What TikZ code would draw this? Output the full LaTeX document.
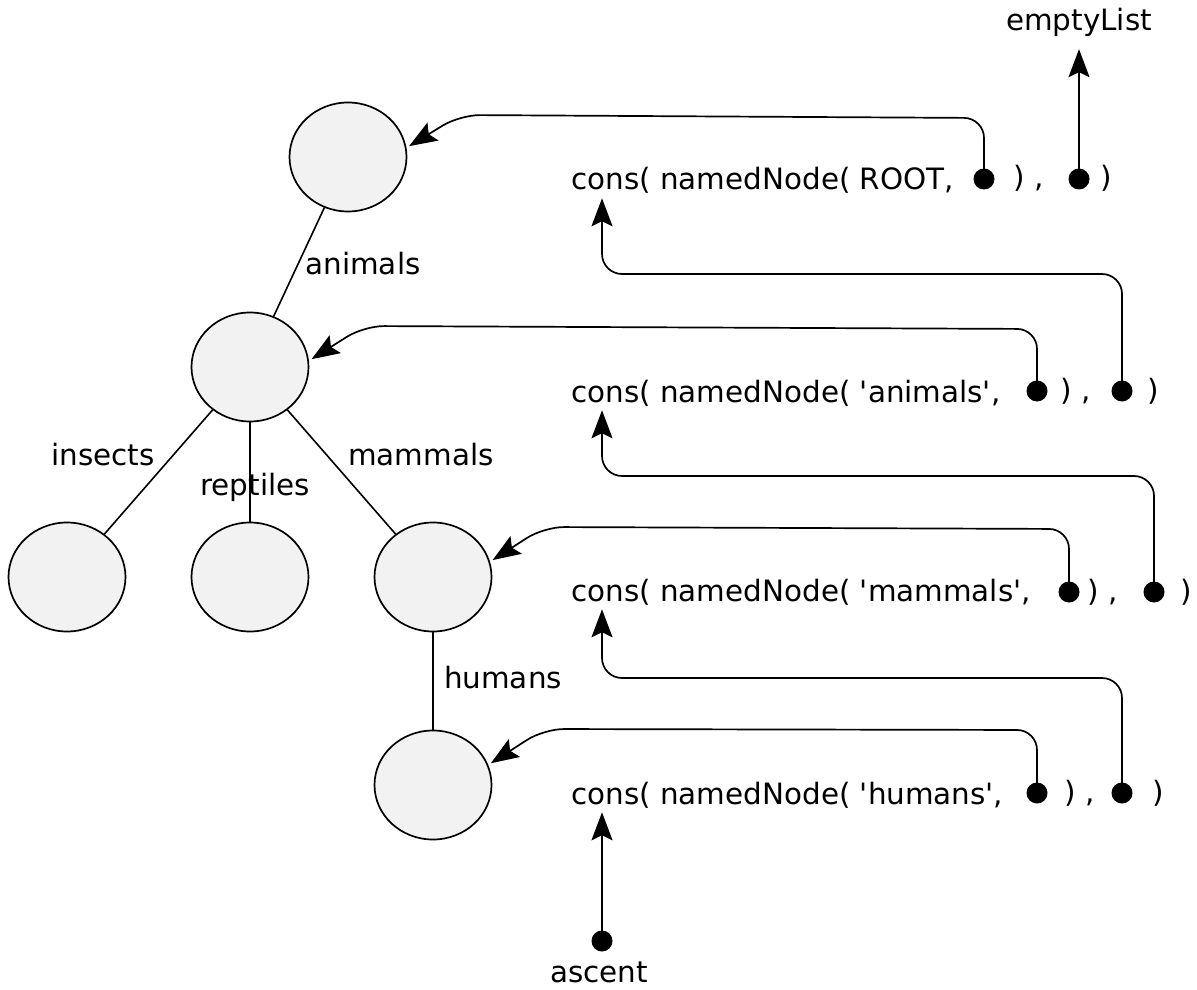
\documentclass[tikz,border=0pt]{standalone}
\usepackage{fontspec}
\setmainfont{DejaVu Sans}
\usepackage{tikz}
\usetikzlibrary{arrows.meta,shapes.geometric}
\definecolor{cellgray}{HTML}{F2F2F2}

\begin{document}
\begin{tikzpicture}[x=0.5pt,y=-0.5pt,
  every node/.style={font=\fontsize{14.7}{17}\selectfont},
  cell/.style={ellipse,draw,line width=0.85pt,fill=cellgray,minimum width=58.5pt,minimum height=54.5pt,inner sep=0pt},
  blob/.style={circle,fill=black,minimum size=10.5pt,inner sep=0pt},
  edge/.style={line width=0.8pt},
  ptr/.style={line width=0.85pt,rounded corners=10pt,-{Stealth[length=14pt,width=10.5pt,inset=2.5pt]}},
  txt/.style={anchor=base west,inner sep=0pt}]
\useasboundingbox (0,0) rectangle (1197,989);
% the tree
\node[cell] (root) at (348,157) {};
\node[cell] (animals) at (250,367) {};
\node[cell] (insects) at (67,577) {};
\node[cell] (reptiles) at (250,577) {};
\node[cell] (mammals) at (433,577) {};
\node[cell] (humans) at (433,785) {};
\draw[edge] (root) -- (animals);
\draw[edge] (animals) -- (insects);
\draw[edge] (animals) -- (reptiles);
\draw[edge] (animals) -- (mammals);
\draw[edge] (mammals) -- (humans);
\node (lanimals) at (363,264) {animals};
\node (linsects) at (103,455) {insects};
\node (lreptiles) at (255,487) {reptiles};
\node (lmammals) at (421,455) {mammals};
\node (lhumans) at (503,678) {humans};
% the list
\node[txt] (c1) at (571,190) {cons( namedNode( ROOT,};
\node[blob] (d1a) at (984,179) {};
\node[txt] (p1) at (1013,188) {) ,};
\node[blob] (d1b) at (1079,179) {};
\node[txt] (q1) at (1100,188) {)};
\node[txt] (c2) at (571,402) {cons( namedNode( \textquotesingle animals\textquotesingle,};
\node[blob] (d2a) at (1037,391) {};
\node[txt] (p2) at (1060,400) {) ,};
\node[blob] (d2b) at (1122,391) {};
\node[txt] (q2) at (1147,400) {)};
\node[txt] (c3) at (571,601) {cons( namedNode( \textquotesingle mammals\textquotesingle,};
\node[blob] (d3a) at (1069,592) {};
\node[txt] (p3) at (1087,601) {) ,};
\node[blob] (d3b) at (1154,592) {};
\node[txt] (q3) at (1180,601) {)};
\node[txt] (c4) at (571,804) {cons( namedNode( \textquotesingle humans\textquotesingle,};
\node[blob] (d4a) at (1037,793) {};
\node[txt] (p4) at (1064,802) {) ,};
\node[blob] (d4b) at (1122,793) {};
\node[txt] (q4) at (1152,802) {)};
\node[anchor=base] (empty) at (1079,31) {emptyList};
\node[blob] (d5) at (602,941) {};
\node[anchor=base] (ascent) at (599,982) {ascent};
% pointers into the tree
\draw[ptr,shorten >=1.5pt] (d1a.center) -- ++(0,-61) -- (460,115) -- (root.9);
\draw[ptr,shorten >=1.5pt] (d2a.center) -- ++(0,-62) -- (364,326) -- (animals.6);
\draw[ptr,shorten >=1.5pt] (d3a.center) -- ++(0,-63) -- (544,527) -- (mammals.15);
\draw[ptr,shorten >=1.5pt] (d4a.center) -- ++(0,-63) -- (544,729) -- (humans.20);
% pointers along the list
\draw[ptr] (d1b.center) -- ([yshift=-2.5pt]empty.south);
\draw[ptr] (d2b.center) -- ++(0,-117) -| ([xshift=15.5pt,yshift=-2pt]c1.south west);
\draw[ptr] (d3b.center) -- ++(0,-116) -| ([xshift=15.5pt,yshift=-2pt]c2.south west);
\draw[ptr] (d4b.center) -- ++(0,-115) -| ([xshift=15.5pt,yshift=-2pt]c3.south west);
\draw[ptr] (d5.center) -- ([yshift=-2pt]d5 |- c4.south);
\end{tikzpicture}
\end{document}
